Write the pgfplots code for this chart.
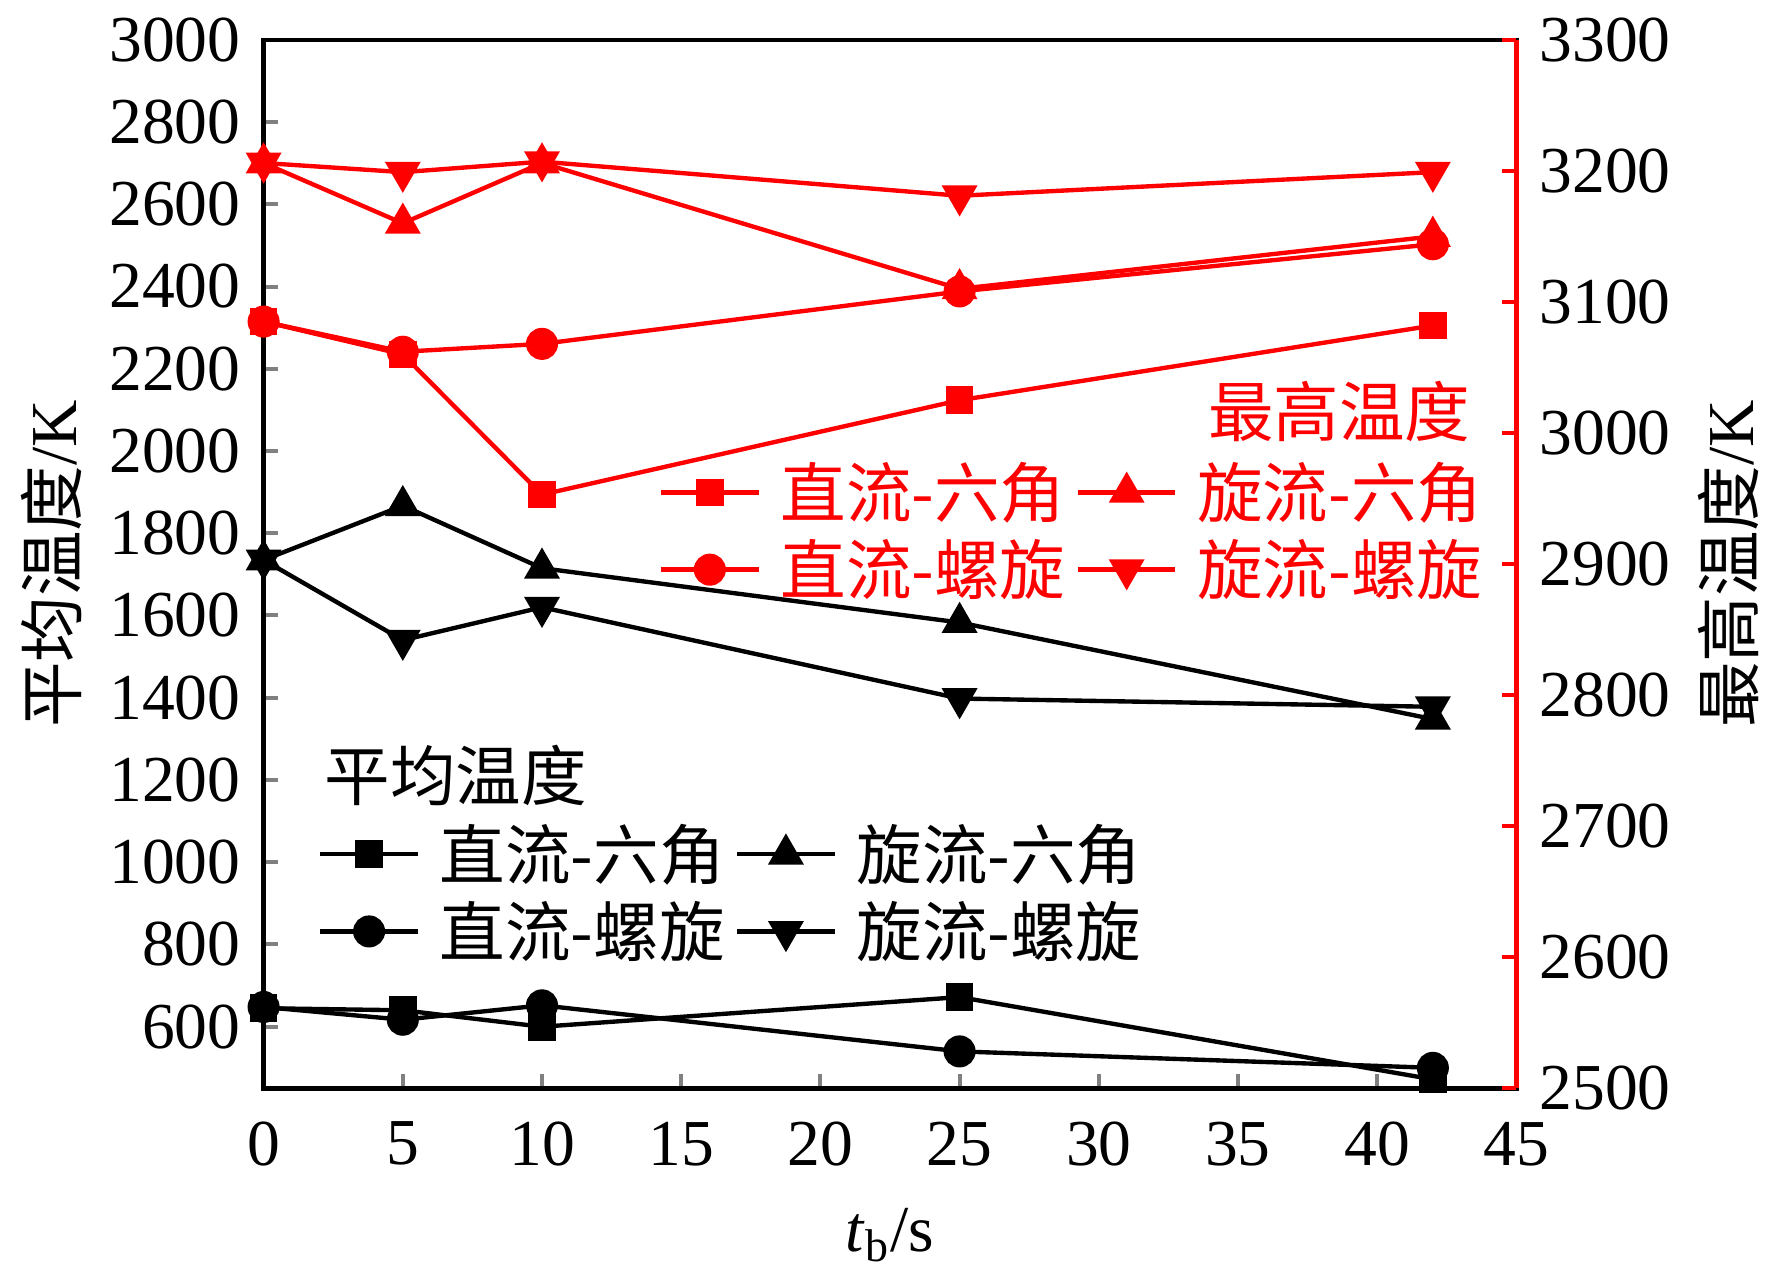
\documentclass[border=0pt]{standalone}
\usepackage{fontspec}
\setmainfont{Liberation Serif}
\newfontfamily\cjk{Noto Sans CJK SC}
\usepackage{pgfplots}
\pgfplotsset{compat=1.18}
\definecolor{myred}{RGB}{255,0,0}

\begin{document}
\begin{tikzpicture}
\pgfplotsset{
  base/.style={
    scale only axis, width=12.09cm, height=10.12cm,
    xmin=0, xmax=45,
    clip=false,
    tick align=inside,
    major tick length=0.14cm,
    tick style={line width=1.1pt},
    font=\fontsize{18}{21}\selectfont,
    /pgf/number format/assume math mode=true,
    /pgf/number format/1000 sep={},
    legend columns=2,
    legend cell align=left,
    legend image code/.code={\draw[mark repeat=2,mark phase=2,#1] plot coordinates {(0cm,0cm) (0.47cm,0cm) (0.94cm,0cm)};},
  },
}
\begin{axis}[base,
  ymin=450, ymax=3000,
  xtick={0,5,...,45}, ytick={600,800,...,3000},
  xtick pos=bottom, ytick pos=left,
  axis line style={line width=1.2pt, black},
  yticklabel style={xshift=-0.1cm},
  xticklabel style={yshift=-0.2cm},
  ylabel={{\cjk 平均温度}/K},
  ylabel style={at={(axis description cs:-0.1695,0.5)}, anchor=center, rotate=0},
  xlabel={\textit{t}\textsubscript{b}/s},
  xlabel style={at={(axis description cs:0.5,-0.14)}, anchor=center},
  legend style={at={(0.043,0.26)}, anchor=north west, draw=none, fill=none, inner sep=0pt,
     font=\fontsize{18}{21}\selectfont\cjk, row sep=0.02cm,
     /tikz/every odd column/.append style={column sep=0.12cm},
     /tikz/every even column/.append style={column sep=0.03cm}},
  every axis plot/.append style={black, line width=1.2pt},
]
\addplot+[black, mark=square*, mark size=3.2pt, mark options={solid, fill=black}] coordinates {(0,645) (5,640) (10,600) (25,672) (42,472)};
\addlegendentry{直流-六角}
\addplot+[black, mark=triangle*, mark size=4.5pt, mark options={solid, fill=black}] coordinates {(0,1735) (5,1867) (10,1715) (25,1583) (42,1348)};
\addlegendentry{旋流-六角}
\addplot+[black, mark=*, mark size=3.8pt, mark options={solid, fill=black}] coordinates {(0,648) (5,617) (10,652) (25,540) (42,500)};
\addlegendentry{直流-螺旋}
\addplot+[black, mark=triangle*, mark size=4.5pt, mark options={solid, fill=black, rotate=180}] coordinates {(0,1735) (5,1540) (10,1620) (25,1398) (42,1378)};
\addlegendentry{旋流-螺旋}
\node[anchor=west, font=\fontsize{18}{21}\selectfont\cjk, inner sep=0pt] at (rel axis cs:0.048,0.298) {平均温度};
\path ([shift={(-2.544cm,-1.721cm)}]rel axis cs:0,0) rectangle ([shift={(2.467cm,0.384cm)}]rel axis cs:1,1);
\end{axis}

\begin{axis}[base,
  ymin=2500, ymax=3300,
  ytick={2500,2600,...,3300},
  axis x line=none,
  axis y line*=right,
  y axis line style={-, line width=1.2pt, myred},
  ytick style={myred, line width=1.1pt},
  yticklabel style={xshift=0.1cm},
  ylabel={{\cjk 最高温度}/K},
  ylabel style={at={(axis description cs:1.1695,0.5)}, anchor=center, rotate=0},
  legend style={at={(0.315,0.605)}, anchor=north west, draw=none, fill=none, inner sep=0pt,
     font=\fontsize{18}{21}\selectfont\cjk, text=myred, row sep=0.02cm,
     /tikz/every odd column/.append style={column sep=0.12cm},
     /tikz/every even column/.append style={column sep=0.03cm}},
]
\addplot+[myred, line width=1.2pt, mark=square*, mark size=3.2pt, mark options={solid, fill=myred, draw=myred}] coordinates {(0,3085) (5,3060) (10,2953) (25,3025) (42,3082)};
\addlegendentry{直流-六角}
\addplot+[myred, line width=1.2pt, mark=triangle*, mark size=4.5pt, mark options={solid, fill=myred, draw=myred}] coordinates {(0,3206) (5,3160) (10,3206) (25,3110) (42,3150)};
\addlegendentry{旋流-六角}
\addplot+[myred, line width=1.2pt, mark=*, mark size=3.8pt, mark options={solid, fill=myred, draw=myred}] coordinates {(0,3085) (5,3062) (10,3068) (25,3108) (42,3144)};
\addlegendentry{直流-螺旋}
\addplot+[myred, line width=1.2pt, mark=triangle*, mark size=4.5pt, mark options={solid, fill=myred, draw=myred, rotate=180}] coordinates {(0,3206) (5,3199) (10,3207) (25,3181) (42,3199)};
\addlegendentry{旋流-螺旋}
\node[anchor=east, font=\fontsize{18}{21}\selectfont\cjk, text=myred, inner sep=0pt] at (rel axis cs:0.964,0.646) {最高温度};
\end{axis}
\end{tikzpicture}
\end{document}
